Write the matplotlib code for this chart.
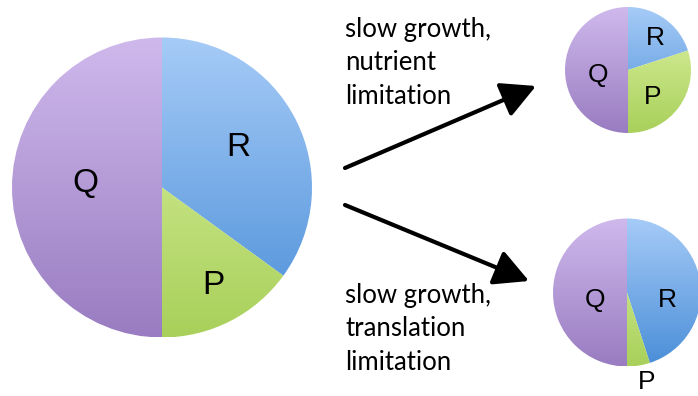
import matplotlib
matplotlib.use("Agg")
import matplotlib.pyplot as plt
import numpy as np
from matplotlib.colors import LinearSegmentedColormap
from matplotlib.patches import FancyArrowPatch, ArrowStyle

# доли секторов (R, P, Q) для трёх кругов
slices = ["R", "P", "Q"]
big_vals = [35, 15, 50]
nutrient_vals = [20, 30, 50]
translation_vals = [45, 5, 50]

# подписи к стрелкам
top_caption = "slow growth,\nnutrient\nlimitation"
bottom_caption = "slow growth,\ntranslation\nlimitation"

# градиенты сверху вниз
grad = {
    "R": ("#a6cbf7", "#4a8ed8"),
    "P": ("#e0f3a6", "#a8d05a"),
    "Q": ("#cfb9ec", "#997cc1"),
}

W, H = 698, 396
fig = plt.figure(figsize=(W / 100, H / 100), dpi=100)
ax = fig.add_axes([0, 0, 1, 1])


def draw_pie(vals, cx, cy, r, label_pos, fs):
    wedges, _ = ax.pie(vals, center=(cx, cy), radius=r, startangle=90,
                       counterclock=False, frame=True)
    g = np.linspace(0, 1, 256).reshape(-1, 1)
    for w, name in zip(wedges, slices):
        w.set_facecolor("none")
        w.set_edgecolor("none")
        cmap = LinearSegmentedColormap.from_list(name, grad[name])
        im = ax.imshow(g, cmap=cmap, extent=(cx - r, cx + r, cy - r, cy + r),
                       origin="upper", aspect="auto", zorder=1)
        im.set_clip_path(w)
    for name, (x, y) in zip(slices, label_pos):
        ax.text(x, H - y, name, fontsize=fs, family="Liberation Sans",
                ha="center", va="center", zorder=3)


draw_pie(big_vals, 162, H - 187.5, 150,
         [(238, 148), (213, 285), (85, 183)], 24)
draw_pie(nutrient_vals, 628, H - 70, 63,
         [(655, 38), (653, 97), (598, 75)], 19)
draw_pie(translation_vals, 627, H - 292.5, 74,
         [(667, 300), (647, 382), (595, 300)], 19)

ax.set_xlim(0, W)
ax.set_ylim(0, H)
ax.set_aspect("equal")
ax.axis("off")

style = ArrowStyle("-|>", head_length=1.05, head_width=0.55)
for p0, p1 in [((345, 168), (536, 86)), ((345, 205), (529, 281))]:
    arr = FancyArrowPatch((p0[0], H - p0[1]), (p1[0], H - p1[1]),
                          arrowstyle=style, mutation_scale=20, lw=3.0,
                          color="black", shrinkA=0, shrinkB=0, zorder=4)
    ax.add_patch(arr)

ax.text(345, H - 17, top_caption, fontsize=18.5, family="Lato",
        ha="left", va="top", linespacing=1.42)
ax.text(345, H - 283, bottom_caption, fontsize=18.5, family="Lato",
        ha="left", va="top", linespacing=1.42)

fig.savefig("out.png", dpi=100)
